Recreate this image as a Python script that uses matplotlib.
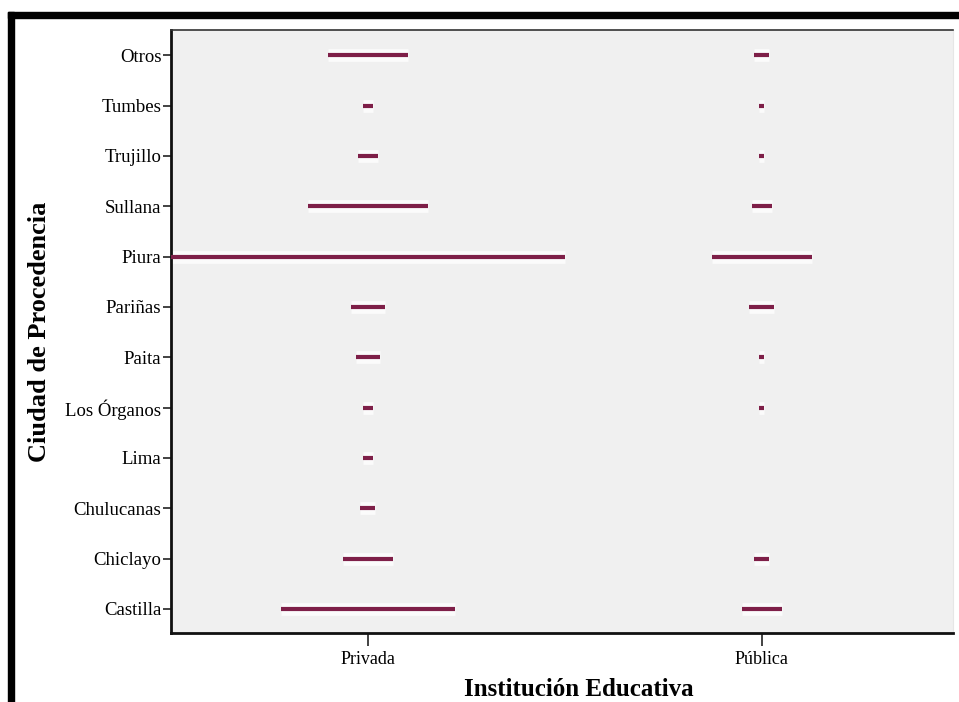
"""
Ciudad de procedencia por institucion educativa (grafico tipo SPSS).
"""

import matplotlib
matplotlib.use("Agg")
import matplotlib.pyplot as plt
from matplotlib.patches import Rectangle

# categorias (de abajo hacia arriba en el eje y)
ciudades = ["Castilla", "Chiclayo", "Chulucanas", "Lima", "Los Órganos", "Paita",
            "Pariñas", "Piura", "Sullana", "Trujillo", "Tumbes", "Otros"]
instituciones = ["Privada", "Pública"]

# conteos estimados a partir de la longitud de cada linea
privada = [35, 10, 3, 2, 2, 5, 7, 79, 24, 4, 2, 16]
publica = [8, 3, 0, 0, 1, 1, 5, 20, 4, 1, 1, 3]

BAR_COLOR = "#7e1f48"
SERIF = ["Liberation Serif", "DejaVu Serif"]
W, H = 959, 702

fig = plt.figure(figsize=(W / 100, H / 100), dpi=100)
ax = fig.add_axes([171 / W, 69 / H, 782 / W, 603 / H])
ax.set_facecolor("#f0f0f0")

max_count = max(max(privada), max(publica))
y_pos = list(range(len(ciudades)))

for i, serie in enumerate([privada, publica]):
    for y, n in zip(y_pos, serie):
        if n == 0:
            continue
        half = n / max_count / 2.0
        # halo blanco suave alrededor de la linea
        ax.hlines(y, i - half, i + half, colors="white", linewidth=9, alpha=0.8, zorder=2)
        ax.hlines(y, i - half, i + half, colors=BAR_COLOR, linewidth=3.0,
                  capstyle="butt", zorder=3)

ax.set_xlim(-0.5, 1.485)
ax.set_ylim(-0.48, 11.5)
ax.set_xticks([0, 1])
ax.set_xticklabels(instituciones, family=SERIF, fontsize=13)
ax.set_yticks(y_pos)
ax.set_yticklabels(ciudades, family=SERIF, fontsize=13.5)
ax.tick_params(axis="y", length=6, width=1.2, pad=1, color="#222222")
ax.tick_params(axis="x", length=9, width=1.2, pad=4, color="#222222")

for side in ["left", "bottom"]:
    ax.spines[side].set_linewidth(2.0)
    ax.spines[side].set_color("#111111")
ax.spines["top"].set_linewidth(1.2)
ax.spines["top"].set_color("#333333")
ax.spines["right"].set_color("#e6e6e6")

ax.set_ylabel("Ciudad de Procedencia", family=SERIF, fontsize=19, fontweight="bold",
              labelpad=10)
fig.text(579 / W, 1 - 690 / H, "Institución Educativa", family=SERIF,
         fontsize=18, fontweight="bold", ha="center", va="center")

# marco negro de la imagen original
fig.add_artist(Rectangle((8 / W, 1 - 18 / H), 1.0, 6 / H, color="black",
                         transform=fig.transFigure))
fig.add_artist(Rectangle((8 / W, 0.0), 6 / W, 1 - 12 / H, color="black",
                         transform=fig.transFigure))

fig.savefig("out.png", dpi=100, facecolor="white")
